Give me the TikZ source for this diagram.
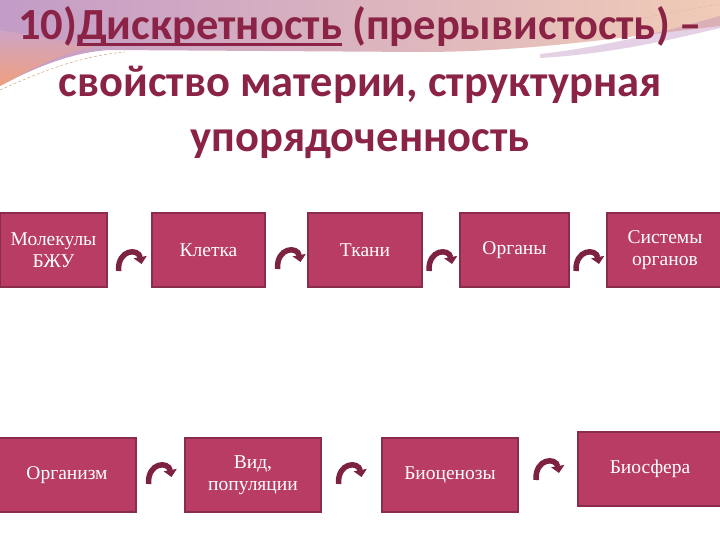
\documentclass[tikz,border=0pt]{standalone}
\usepackage{fontspec}
\setmainfont{Liberation Serif}
\newfontfamily\titlefont{Carlito}
\usetikzlibrary{arrows.meta,calc}

\definecolor{boxfill}{HTML}{B83C63}
\definecolor{boxline}{HTML}{8A2C4B}
\definecolor{titlecol}{HTML}{8B2346}
\definecolor{arrcol}{HTML}{7D2242}
\definecolor{bandpurple}{HTML}{C39CC7}
\definecolor{bandpink}{HTML}{E8B6C0}
\definecolor{bandpeach}{HTML}{F1CBB6}
\definecolor{bandorange}{HTML}{EFA07E}

\newcommand{\ulword}[1]{\setbox0\hbox{#1}\rlap{\raisebox{-6pt}{\rule{\wd0}{3pt}}}\box0\relax}

\tikzset{
  level/.style={draw=boxline, line width=1.5pt, fill=boxfill, text=white,
    font=\fontsize{19.5}{22}\selectfont, align=center, minimum height=74pt, inner sep=2pt},
  titleline/.style={text=titlecol, anchor=base, inner sep=0pt,
    font=\titlefont\bfseries\fontsize{44.5}{52}\selectfont},
  curvline/.style={draw=arrcol, line width=5.5pt, -{Triangle[width=13pt,length=7pt]}},
  curvarr/.pic={\draw[curvline] (-12,11) .. controls (-13,-11) and (8,-12) .. (11,4);}
}

\begin{document}
\begin{tikzpicture}[x=1pt,y=-1pt]
\useasboundingbox (0,0) rectangle (720,540);
\fill[white] (0,0) rectangle (720,540);
% background band
\shade[left color=bandpurple, middle color=bandpink, right color=bandpeach]
  (0,0) -- (720,0) -- (720,26) .. controls (600,40) and (520,52) .. (420,52)
  -- (110,50) .. controls (70,52) and (30,70) .. (0,86) -- cycle;
\shade[top color=bandpurple!70!bandpink, bottom color=bandorange]
  (0,30) -- (95,47) .. controls (60,53) and (30,70) .. (0,86) -- cycle;
\fill[bandpurple!80!violet, opacity=0.35]
  (540,54) .. controls (610,46) and (670,30) .. (720,16) -- (720,28)
  .. controls (670,40) and (610,54) .. (540,58) -- cycle;
\draw[densely dashed, brown!60, line width=0.6pt] (0,90) .. controls (40,72) and (80,56) .. (125,52);
\draw[densely dashed, brown!50, line width=0.6pt] (630,20) -- (720,4);

% title
\node[titleline] (t1) at (360,40) {10)\ulword{Дискретность} (прерывистость) –};
\node[titleline] (t2) at (360,97) {свойство материи, структурная};
\node[titleline] (t3) at (360,152) {упорядоченность};

% top row
\node[level, minimum width=107pt] (mol) at (53.5,250) {Молекулы\\БЖУ};
\node[level, minimum width=113pt] (klet) at (208.5,250) {Клетка};
\node[level, minimum width=114pt] (tkan) at (365,250) {Ткани};
\node[level, minimum width=109pt] (organ) at (514.5,250) {Органы};
\node[level, minimum width=116pt] (sist) at (665,250) {Системы\\органов};

% bottom row
\node[level, minimum width=138pt] (orgm) at (67,475) {Организм};
\node[level, minimum width=136pt] (vid) at (253,475) {Вид,\\популяции};
\node[level, minimum width=136pt] (bioc) at (450,475) {Биоценозы};
\node[level, minimum width=144pt] (biosf) at (650,469) {Биосфера};

% curved arrows
\path ($(mol.east)!0.5!(klet.west)$) ++(1,10) pic {curvarr};
\path ($(klet.east)!0.5!(tkan.west)$) ++(3,8) pic {curvarr};
\path ($(tkan.east)!0.5!(organ.west)$) ++(0,10) pic {curvarr};
\path ($(organ.east)!0.5!(sist.west)$) ++(0,10) pic {curvarr};
\path ($(orgm.east)!0.5!(vid.west)$) ++(0,-2) pic {curvarr};
\path ($(vid.east)!0.5!(bioc.west)$) ++(-1,-2) pic {curvarr};
\path ($(bioc.east)!0.5!(biosf.west)$) ++(0,-3) pic {curvarr};
\end{tikzpicture}
\end{document}
